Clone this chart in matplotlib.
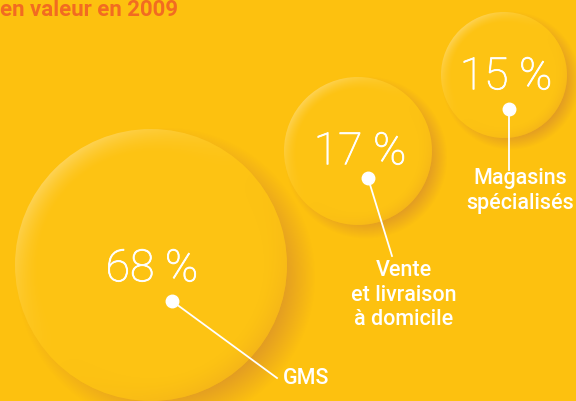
import numpy as np
import matplotlib
matplotlib.use('Agg')
import matplotlib.pyplot as plt
import matplotlib.patheffects as pe
from matplotlib.patches import Circle

# Data
shares = [68, 17, 15]
channels = ['GMS', 'Vente\net livraison\nà domicile', 'Magasins\nspécialisés']
title = 'en valeur en 2009'

# Layout (pixels, y down)
centers = [(151, 265), (358, 151), (504, 75)]
radii = [136, 74, 63]
pct_pos = [(152, 269), (360, 152), (506, 77)]
dots = [(172, 301), (368, 178), (509, 109)]
ends = [(277, 378), (392, 256), (509, 170)]
label_pos = [(283, 379), (404, 260), (520, 168)]
label_ha = ['left', 'center', 'center']
label_va = ['center', 'top', 'top']

bg = '#fdc10f'
body = '#fdc313'
shadow = '#d68c2c'
orange = '#f26b21'

W, H = 576, 401
fig = plt.figure(figsize=(5.76, 4.01), dpi=100, facecolor=bg)
ax = fig.add_axes([0, 0, 1, 1])
ax.set_xlim(0, W)
ax.set_ylim(H, 0)
ax.set_facecolor(bg)
ax.axis('off')

yy, xx = np.mgrid[0:H, 0:W] + 0.5

for (cx, cy), r in zip(centers, radii):
    # soft shadow down-right
    off = r * 0.11
    d = np.hypot(xx - cx - off, yy - cy - off * 0.8)
    a = np.clip((r + r * 0.1 - d) / (r * 0.28), 0, 1) * 0.8
    img = np.zeros((H, W, 4))
    img[..., :3] = matplotlib.colors.to_rgb(shadow)
    img[..., 3] = a
    ax.imshow(img, extent=(0, W, H, 0), zorder=1, interpolation='bilinear')

for (cx, cy), r in zip(centers, radii):
    c = Circle((cx, cy), r, facecolor=body, edgecolor='none', zorder=2)
    ax.add_patch(c)
    # light rim on upper-left, darker rim on lower-right
    d = np.hypot(xx - cx, yy - cy) / r
    ang = np.arctan2(-(yy - cy), -(xx - cx))
    w = np.clip(np.cos(ang - np.pi / 4), 0, 1) ** 1.5
    rim = np.clip((d - 0.82) / 0.18, 0, 1) ** 1.5
    img = np.zeros((H, W, 4))
    img[..., :3] = (1.0, 0.88, 0.55)
    img[..., 3] = rim * w * 0.55
    im = ax.imshow(img, extent=(0, W, H, 0), zorder=3, interpolation='bilinear')
    im.set_clip_path(c)
    w2 = np.clip(np.cos(ang - np.pi / 4 - np.pi), 0, 1) ** 1.5
    img2 = np.zeros((H, W, 4))
    img2[..., :3] = (0.93, 0.66, 0.12)
    img2[..., 3] = rim * w2 * 0.5
    im2 = ax.imshow(img2, extent=(0, W, H, 0), zorder=3, interpolation='bilinear')
    im2.set_clip_path(c)

for i, v in enumerate(shares):
    px, py = pct_pos[i]
    ax.text(px, py, f'{v} %', color='white', fontsize=32,
            family='Roboto', fontweight='light', ha='center', va='center', zorder=5,
            path_effects=[pe.withStroke(linewidth=0.6, foreground='white')])
    (x0, y0), (x1, y1) = dots[i], ends[i]
    ax.plot([x0, x1], [y0, y1], color='white', lw=1.3, zorder=5)
    ax.plot(x0, y0, 'o', color='white', ms=9, zorder=6)
    lx, ly = label_pos[i]
    ax.text(lx, ly, channels[i], color='white', fontsize=15.5, family='Roboto',
            fontweight='medium', ha=label_ha[i], va=label_va[i],
            multialignment='center', linespacing=1.22, zorder=5)

ax.text(0, 10, title, color=orange, fontsize=16, family='Roboto',
        fontweight='bold', ha='left', va='center', zorder=5)

fig.savefig('out.png', dpi=100, facecolor=bg)
